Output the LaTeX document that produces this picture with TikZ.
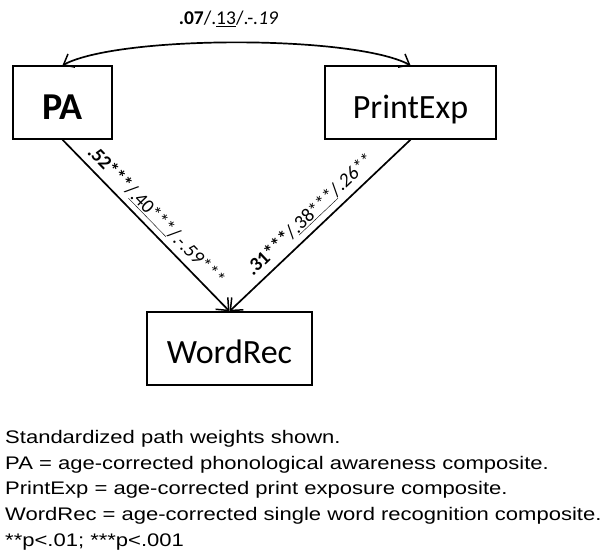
\documentclass[tikz,border=0pt]{standalone}
\usepackage{fontspec}
\setmainfont{Liberation Sans}
\newfontfamily\carlito{Carlito}
\newfontfamily\notefont[FakeStretch=1.21]{Liberation Sans}
\usetikzlibrary{arrows.meta}
\begin{document}
\begin{tikzpicture}[x=1pt,y=-1pt,
  box/.style={draw, line width=1.4pt, minimum height=73pt, inner sep=0pt,
    text depth=0pt, font=\carlito\fontsize{34}{34}\selectfont},
  arr/.style={line width=1.7pt, -{Straight Barb[length=10pt,width=17pt,line width=1.5pt]}},
  elabel/.style={font=\carlito\fontsize{19.5}{19.5}\selectfont, inner sep=2pt},
  notes/.style={font=\notefont\fontsize{18.2}{25.6}\selectfont, align=left, inner sep=0pt}
]
\useasboundingbox (0,0) rectangle (602,554);

\node[box, minimum width=99pt, text height=33pt, font=\carlito\fontsize{38}{38}\selectfont] (pa) at (62.5,102.5) {\textbf{PA}};
\node[box, minimum width=171pt, text height=32pt] (pe) at (410.5,102.5) {PrintExp};
\node[box, minimum width=165pt, text height=29pt] (wr) at (229.5,348.5) {WordRec};

\draw[line width=1.7pt, {Straight Barb[length=9pt,width=15pt,line width=1.5pt]}-{Straight Barb[length=9pt,width=15pt,line width=1.5pt]}]
  (pa.north) .. controls (120,35) and (353,35) .. (pe.north)
  node[midway, above=13pt, xshift=-8pt, elabel] (r) {\textbf{.07}/.\underline{13}/.-\textit{.19}};

\draw[arr] (pa.south) -- (wr.north)
  node[midway, sloped, above=3pt, elabel] (l1) {\textbf{.52***}/\underline{.40***}/\textit{.-.59***}};
\draw[arr] (pe.south) -- (wr.north)
  node[midway, sloped, above=4pt, elabel] (l2) {\textbf{.31***}/\underline{.38***}/\textit{.26**}};

\node[notes, anchor=base west] (n) at (5,546) {Standardized path weights shown.\\
PA = age-corrected phonological awareness composite.\\
PrintExp = age-corrected print exposure composite.\\
WordRec = age-corrected single word recognition composite.\\
**p<.01; ***p<.001};
\end{tikzpicture}
\end{document}
